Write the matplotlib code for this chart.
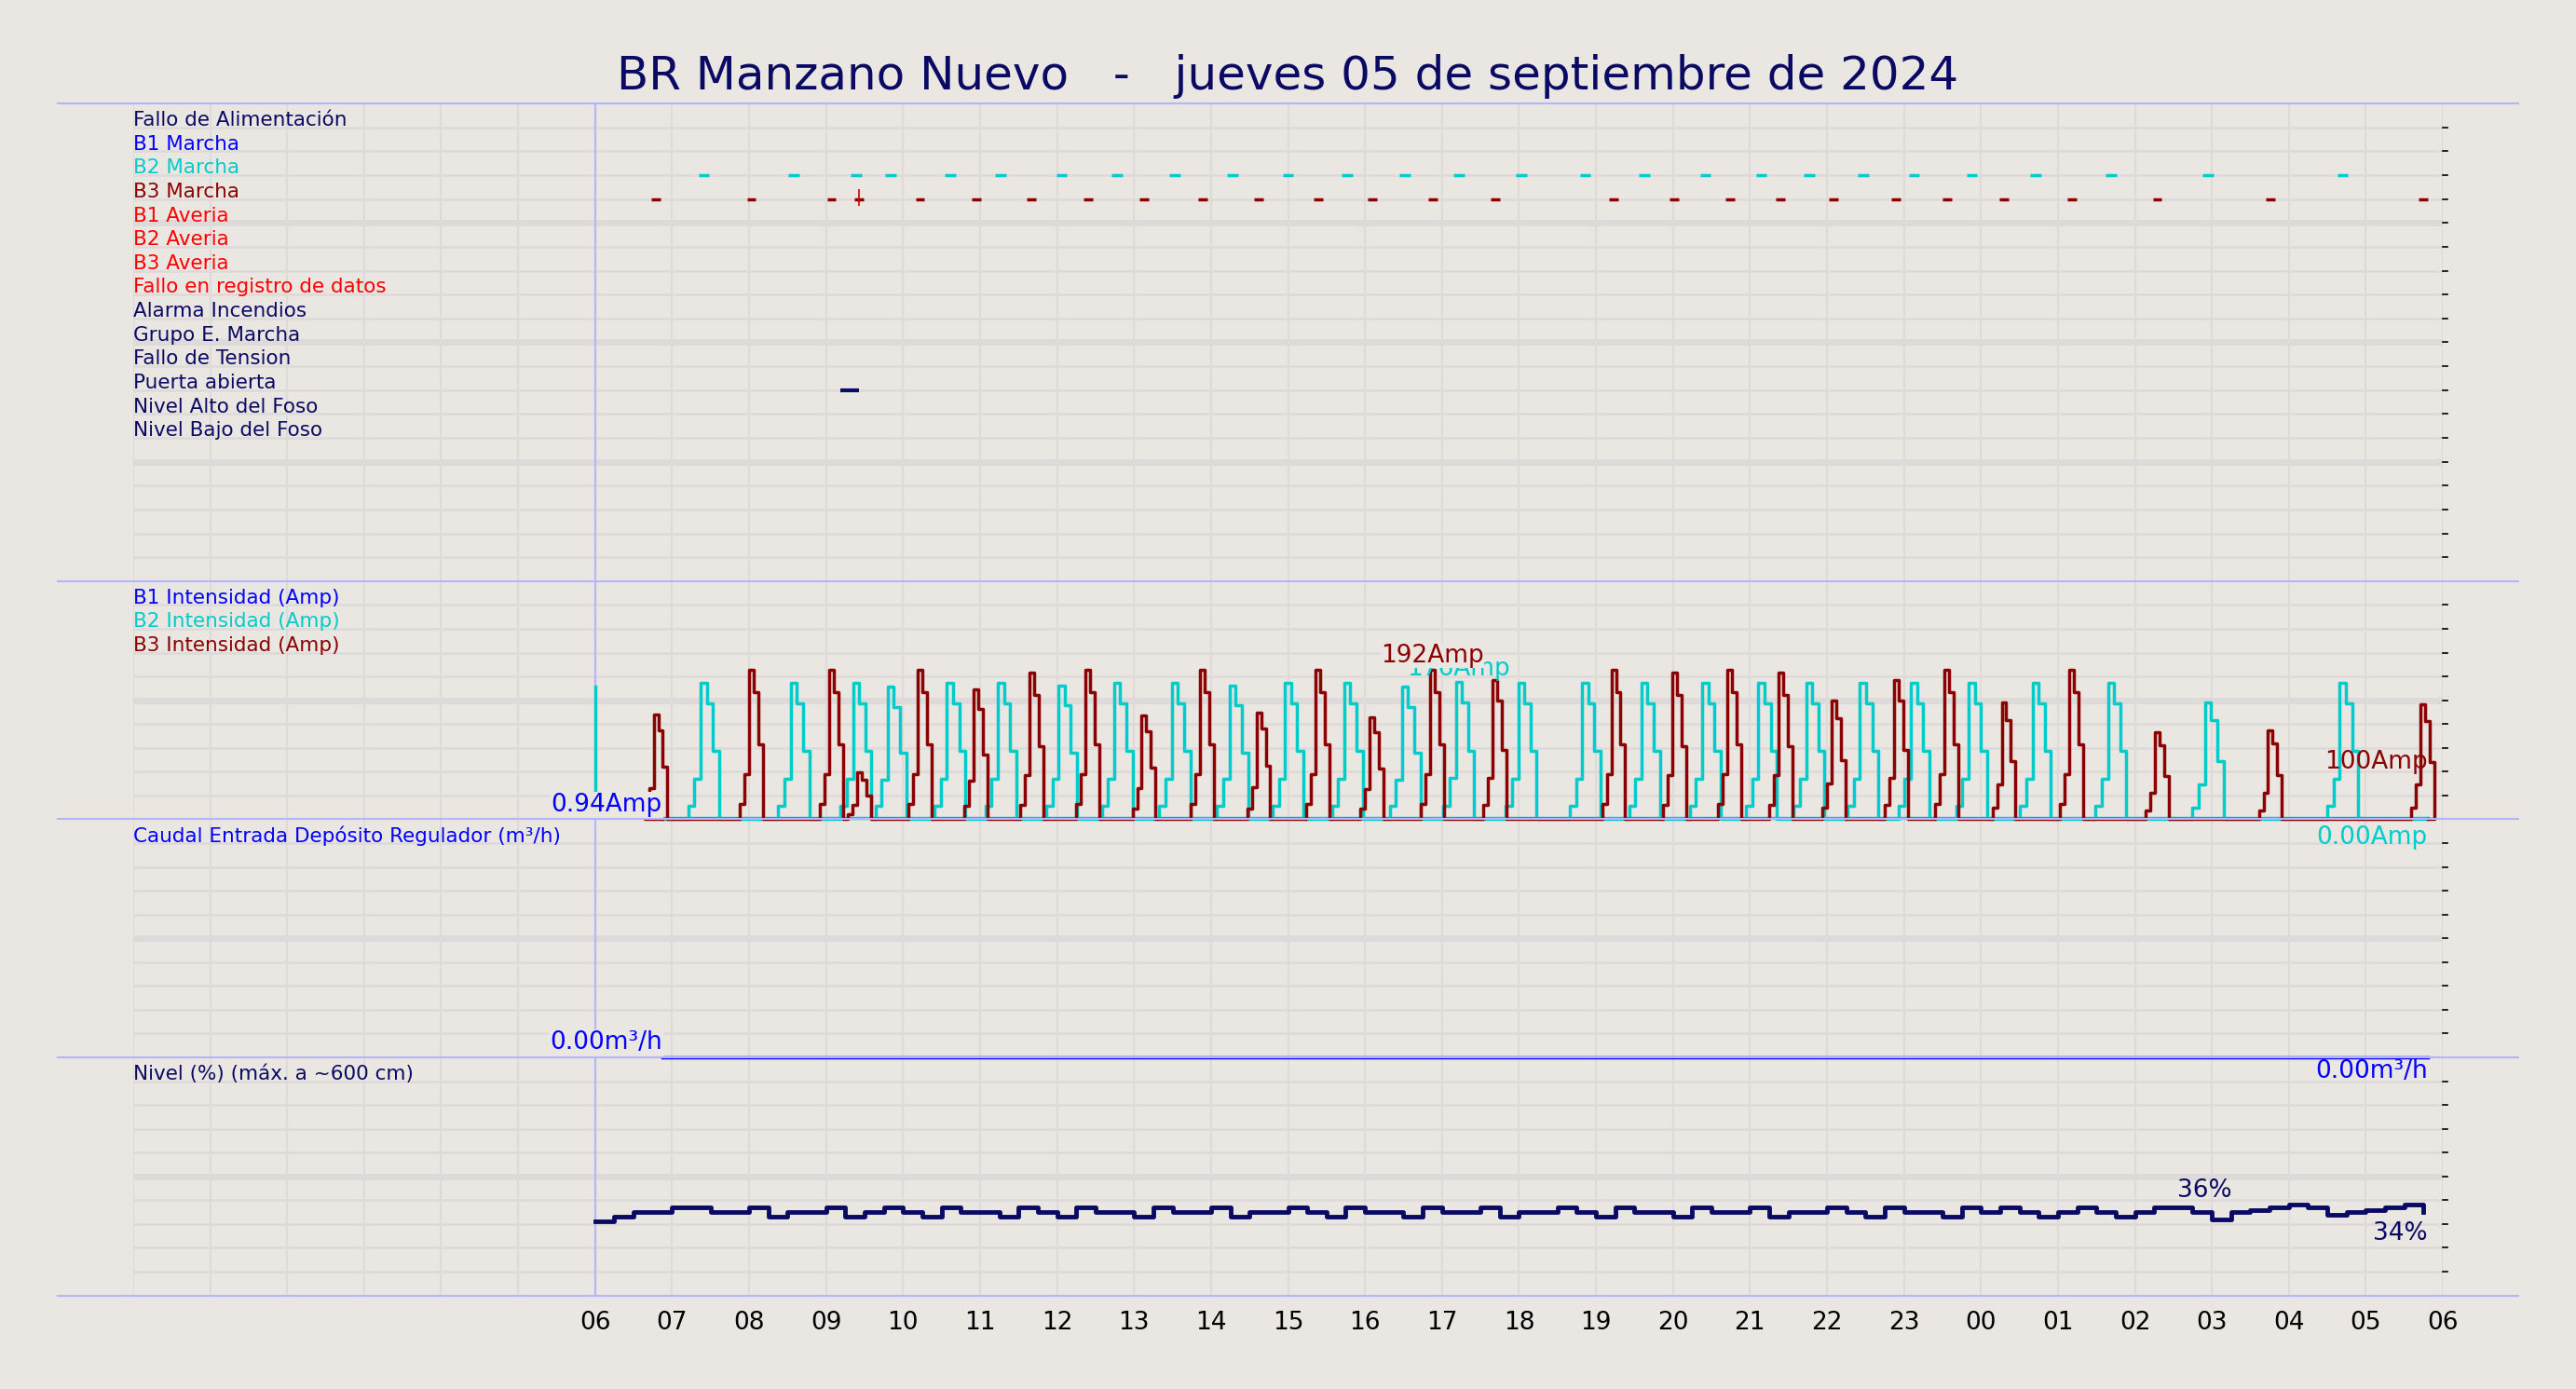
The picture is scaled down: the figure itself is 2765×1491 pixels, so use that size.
import matplotlib.pyplot as plt
from matplotlib.lines import Line2D
import numpy as np

BG = "#EAE6E1"
GRID = "#DEDADA"
SEP = "#B4B4FF"
NAVY = "#0A0A64"

title = "BR Manzano Nuevo   -   jueves 05 de septiembre de 2024"

row_labels = ["Fallo de Alimentación", "B1 Marcha", "B2 Marcha", "B3 Marcha",
              "B1 Averia", "B2 Averia", "B3 Averia", "Fallo en registro de datos",
              "Alarma Incendios", "Grupo E. Marcha", "Fallo de Tension",
              "Puerta abierta", "Nivel Alto del Foso", "Nivel Bajo del Foso"]
row_colors = [NAVY, "#0000FF", "#00CCCC", "#8B0000", "#FF0000", "#FF0000", "#FF0000",
              "#FF0000", NAVY, NAVY, NAVY, NAVY, NAVY, NAVY]

# hours since 00:00 of the day (data shown from 06 to 06 next day)
b2_centers = [7.41, 8.58, 9.39, 9.84, 10.61, 11.27, 12.06, 12.78, 13.53, 14.28, 15.00,
              15.77, 16.52, 17.22, 18.03, 18.86, 19.63, 20.42, 21.15, 21.77, 22.47,
              23.13, 23.88, 24.71, 25.69, 26.95, 28.70]
b2_peaks = [175, 175, 175, 170, 175, 175, 172, 175, 175, 172, 175, 175, 170, 176, 175,
            175, 175, 175, 175, 175, 175, 175, 175, 175, 175, 150, 175]
b3_centers = [6.79, 8.03, 9.07, 9.43, 10.22, 10.95, 11.67, 12.40, 13.13, 13.89, 14.62,
              15.39, 16.09, 16.88, 17.69, 19.23, 20.02, 20.74, 21.40, 22.09, 22.90,
              23.56, 24.30, 25.18, 26.29, 27.76, 29.74]
b3_peaks = [135, 192, 192, 60, 192, 167, 188, 192, 133, 192, 137, 192, 131, 192, 179,
            192, 188, 192, 188, 152, 179, 192, 150, 192, 112, 114, 148]
pulse_profile = [0.1, 0.3, 1.0, 0.85, 0.5]
puerta = (9.18, 9.43)

level_times = [6.0 + 0.25 * i for i in range(96)]
level_vals = [31, 33, 35, 35, 37, 37, 35, 35, 37, 33, 35, 35, 37, 33, 35, 37,
              35, 33, 37, 35, 35, 33, 37, 35, 33, 37, 35, 35, 33, 37, 35, 35,
              37, 33, 35, 35, 37, 35, 33, 37, 35, 35, 33, 37, 35, 35, 37, 33,
              35, 35, 37, 35, 33, 37, 35, 35, 33, 37, 35, 35, 37, 33, 35, 35,
              37, 35, 33, 37, 35, 35, 33, 37, 35, 37, 35, 33, 35, 37, 35, 33,
              35, 37, 37, 35, 32, 35, 36, 37, 38, 37, 34, 35, 36, 37, 38, 35]
caudal_t = [6.87, 29.8]
caudal_v = [0.0, 0.0]


def pulses(centers, peaks, dur):
    t, v = [6.87], [0.0]
    n = len(pulse_profile)
    for c, p in zip(centers, peaks):
        s = c - dur * 0.5
        for k, f in enumerate(pulse_profile):
            t.append(s + dur * k / n)
            v.append(p * f)
        t.append(s + dur)
        v.append(0.0)
    t.append(29.8)
    v.append(0.0)
    return np.array(t), np.array(v)


fig = plt.figure(figsize=(27.65, 14.91), dpi=100, facecolor=BG)
L, R = 0.0517, 0.9483
bounds = [0.0674, 0.2388, 0.4102, 0.5816, 0.9255]
ax_lvl = fig.add_axes([L, bounds[0], R - L, bounds[1] - bounds[0]])
ax_q = fig.add_axes([L, bounds[1], R - L, bounds[2] - bounds[1]])
ax_i = fig.add_axes([L, bounds[2], R - L, bounds[3] - bounds[2]])
ax_d = fig.add_axes([L, bounds[3], R - L, bounds[4] - bounds[3]])

for ax, nrows in [(ax_d, 20), (ax_i, 10), (ax_q, 10), (ax_lvl, 10)]:
    ax.set_facecolor(BG)
    ax.set_xlim(0, 30)
    for s in ax.spines.values():
        s.set_visible(False)
    for k in range(nrows):
        thick = (k % 5 == 0 and k > 0)
        ax.plot([0, 1], [k / nrows] * 2, transform=ax.transAxes, color=GRID,
                lw=5 if thick else 1.8, zorder=0)
    for h in range(31):
        ax.axvline(h, color=SEP if h == 6 else GRID, lw=1.5, zorder=0.5)
    ax.set_yticks([])
    for k in range(1, nrows):
        ax.plot([1.0, 1.002], [k / nrows] * 2, transform=ax.transAxes, color="k",
                lw=1.2, clip_on=False)
    ax.tick_params(axis="x", length=0)
    ax.set_xticks([])

# digital panel
ax_d.set_ylim(20, 0)
for i, (lab, col) in enumerate(zip(row_labels, row_colors)):
    ax_d.text(0, i + 0.7, lab, color=col, fontsize=15.5, va="center", ha="left")
ax_d.hlines([3.0] * len(b2_centers), np.array(b2_centers) - 0.07, np.array(b2_centers) + 0.07,
            color="#00CCCC", lw=2.5)
ax_d.hlines([4.0] * len(b3_centers), np.array(b3_centers) - 0.06, np.array(b3_centers) + 0.06,
            color="#8B0000", lw=2.5)
ax_d.vlines(9.43, 3.6, 4.3, color="#CC0000", lw=1.2)
ax_d.hlines(12.0, puerta[0], puerta[1], color=NAVY, lw=3)

# intensity panel
ax_i.set_ylim(0, 306)
for i, (lab, col) in enumerate(zip(["B1 Intensidad (Amp)", "B2 Intensidad (Amp)",
                                     "B3 Intensidad (Amp)"], ["#0000FF", "#00CCCC", "#8B0000"])):
    ax_i.text(0, 306 - (i + 0.7) * 30.6, lab, color=col, fontsize=15.5, va="center")
t2, v2 = pulses(b2_centers, b2_peaks, 0.4)
t3, v3 = pulses(b3_centers, b3_peaks, 0.3)
ax_i.plot([6.0, 6.0], [15, 170], color="#00CCCC", lw=2.5)
ax_i.plot([6.87, 29.8], [1.5, 1.5], color="#00CCCC", lw=2.5, clip_on=False)
ax_i.step(t2, v2, where="post", color="#00CCCC", lw=2.5, clip_on=False)
ax_i.step(t3, v3, where="post", color="#8B0000", lw=2.5, clip_on=False)
ax_i.text(6.87, 3, "0.94Amp", color="#0000FF", fontsize=19, ha="right", va="bottom",
          bbox=dict(facecolor=BG, edgecolor="none", pad=1))
ax_i.text(17.22, 178, "176Amp", color="#00CCCC", fontsize=19, ha="center", va="bottom")
ax_i.text(16.88, 194, "192Amp", color="#8B0000", fontsize=19, ha="center", va="bottom",
          bbox=dict(facecolor=BG, edgecolor="none", pad=0))
ax_i.text(29.8, 58, "100Amp", color="#8B0000", fontsize=19, ha="right", va="bottom")
ax_i.text(29.8, -8, "0.00Amp", color="#00CCCC", fontsize=19, ha="right", va="top",
          clip_on=False)

# caudal panel
ax_q.set_ylim(0, 100)
ax_q.text(0, 93, "Caudal Entrada Depósito Regulador (m³/h)", color="#0000FF",
          fontsize=15.5, va="center")
ax_q.plot(caudal_t, caudal_v, color="#0000FF", lw=2.5, clip_on=False, zorder=3)
ax_q.text(6.87, 1, "0.00m³/h", color="#0000FF", fontsize=19, ha="right", va="bottom",
          bbox=dict(facecolor=BG, edgecolor="none", pad=1))

# level panel
ax_lvl.set_ylim(0, 100)
ax_lvl.text(0, 93, "Nivel (%) (máx. a ~600 cm)", color=NAVY, fontsize=15.5, va="center")
ax_lvl.step(level_times, level_vals, where="post", color=NAVY, lw=3.5)
ax_lvl.text(29.8, 94, "0.00m³/h", color="#0000FF", fontsize=19, ha="right", va="center")
ax_lvl.text(26.9, 39, "36%", color=NAVY, fontsize=19, ha="center", va="bottom")
ax_lvl.text(29.8, 31, "34%", color=NAVY, fontsize=19, ha="right", va="top")
hours = list(range(6, 31))
ax_lvl.set_xticks(hours)
ax_lvl.set_xticklabels(["%02d" % (h % 24) for h in hours], fontsize=19)
ax_lvl.tick_params(axis="x", length=0, pad=12)

for y in bounds:
    fig.add_artist(Line2D([0.0223, 0.9777], [y, y], color=SEP, lw=1.5))

fig.text(0.5, 0.945, title, color=NAVY, fontsize=36, ha="center", va="center")
fig.savefig("out.png", dpi=100, facecolor=BG)
